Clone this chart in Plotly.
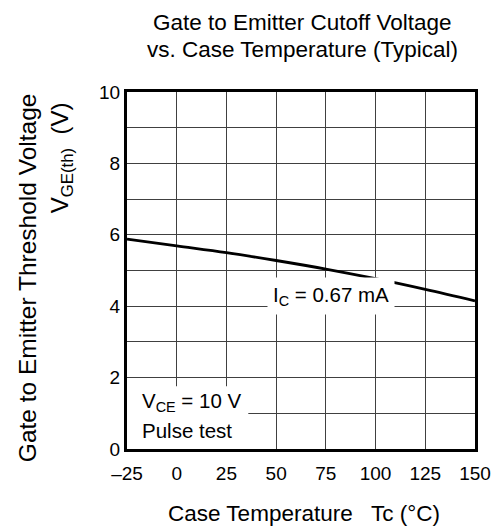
import plotly.graph_objects as go

# Data
temps = [-25, 0, 25, 50, 75, 100, 125, 150]
vth = [5.88, 5.69, 5.50, 5.28, 5.04, 4.77, 4.47, 4.15]

x_tickvals = [-25, 0, 25, 50, 75, 100, 125, 150]
x_ticktext = ["\u201325", "0", "25", "50", "75", "100", "125", "150"]
y_tickvals = [0, 2, 4, 6, 8, 10]
y_ticktext = ["0", "2", "4", "6", "8", "10"]

FONT = "Liberation Sans, Arial, sans-serif"
GRID = "#404040"

fig = go.Figure()
fig.add_trace(go.Scatter(
    x=temps, y=vth, mode="lines",
    line=dict(color="black", width=2.8, shape="spline"),
    showlegend=False, hoverinfo="skip",
))

fig.update_layout(
    width=503, height=532,
    margin=dict(l=127, r=17, t=92, b=83),
    paper_bgcolor="white", plot_bgcolor="white",
    font=dict(family=FONT, size=19, color="black"),
    xaxis=dict(
        range=[-25, 150], tickvals=x_tickvals, ticktext=x_ticktext,
        showgrid=True, gridcolor=GRID, gridwidth=1,
        showline=True, linecolor="black", linewidth=3, mirror=True,
        ticks="", zeroline=False, tickfont=dict(size=19),
        ticklabeloverflow="allow", ticklabelstandoff=5,
    ),
    yaxis=dict(
        range=[0, 10], tickvals=y_tickvals, ticktext=y_ticktext,
        showgrid=True, gridcolor=GRID, gridwidth=1,
        minor=dict(dtick=1, showgrid=True, gridcolor=GRID, gridwidth=1, ticks=""),
        showline=True, linecolor="black", linewidth=3, mirror=True,
        ticks="", zeroline=False, tickfont=dict(size=19),
        ticklabeloverflow="allow",
    ),
    shapes=[dict(
        type="rect", xref="x", yref="y", x0=-25, x1=36, y0=0, y1=1.76,
        fillcolor="white", line=dict(width=0), layer="above",
    )],
)

ann = []
# Title
ann.append(dict(text="Gate to Emitter Cutoff Voltage", xref="paper", yref="paper",
                x=0.505, y=1.196, xanchor="center", yanchor="middle",
                showarrow=False, font=dict(size=22.5)))
ann.append(dict(text="vs. Case Temperature (Typical)", xref="paper", yref="paper",
                x=0.505, y=1.118, xanchor="center", yanchor="middle",
                showarrow=False, font=dict(size=22.5)))
# X axis title
ann.append(dict(text="Case Temperature   Tc (\u00b0C)", xref="paper", yref="paper",
                x=0.51, y=-0.180, xanchor="center", yanchor="middle",
                showarrow=False, font=dict(size=22.5)))
# Y axis title
ann.append(dict(text="Gate to Emitter Threshold Voltage", xref="paper", yref="paper",
                x=-0.284, y=0.479, xanchor="center", yanchor="middle", textangle=-90,
                showarrow=False, font=dict(size=24.5)))
ann.append(dict(text="V<sub>GE(th)</sub>  (V)", xref="paper", yref="paper",
                x=-0.19, y=0.978, xanchor="center", yanchor="top", textangle=-90,
                showarrow=False, font=dict(size=24)))
# Curve label
ann.append(dict(text="I<sub>C</sub> = 0.67 mA", xref="x", yref="y",
                x=77.5, y=4.29, xanchor="center", yanchor="middle",
                showarrow=False, bgcolor="white", borderpad=5, font=dict(size=20.5)))
# Conditions
ann.append(dict(text="V<sub>CE</sub> = 10 V", xref="x", yref="y",
                x=-18.6, y=1.32, xanchor="left", yanchor="middle",
                showarrow=False, font=dict(size=20.5)))
ann.append(dict(text="Pulse test", xref="x", yref="y",
                x=-18.6, y=0.53, xanchor="left", yanchor="middle",
                showarrow=False, font=dict(size=20.5)))

fig.update_layout(annotations=ann)
fig.write_html(
    "out.html",
    config={"displayModeBar": False},
    post_script="document.body.style.margin='0';document.body.style.overflow='hidden';",
)
